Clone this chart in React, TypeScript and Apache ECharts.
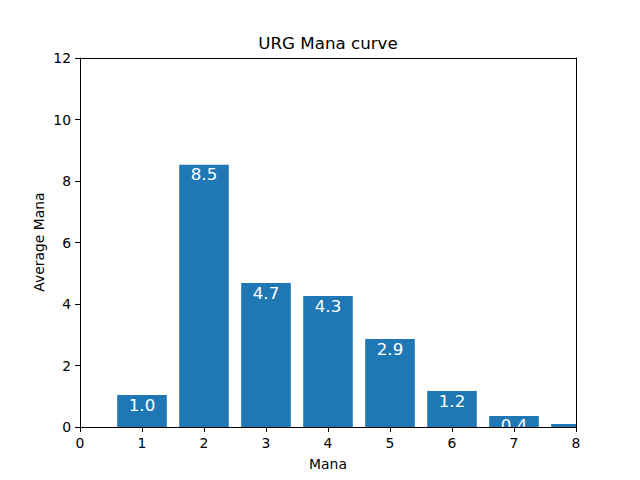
import React, { useEffect, useRef } from "react";
import * as echarts from "echarts";

const manaCosts = [1, 2, 3, 4, 5, 6, 7, 8];
const averageCounts = [1.04, 8.53, 4.68, 4.26, 2.86, 1.17, 0.36, 0.1];
const xTicks = [0, 1, 2, 3, 4, 5, 6, 7, 8];
const yTicks = [0, 2, 4, 6, 8, 10, 12];
const barRelWidth = 0.8;

const FONT = "DejaVu Sans";

export default function App() {
  const ref = useRef<HTMLDivElement>(null);
  useEffect(() => {
    if (!ref.current) return;
    const chart = echarts.init(ref.current, undefined, { renderer: "svg" });
    const axisCommon = {
      z: 5,
      axisLine: { show: true, onZero: false, lineStyle: { color: "#000", width: 1 } },
      axisTick: { show: true, inside: false, length: 5, lineStyle: { color: "#000" } },
      axisLabel: { color: "#000", fontSize: 13.9, fontFamily: FONT, margin: 9 },
      splitLine: { show: false },
    };
    chart.setOption({
      animation: false,
      backgroundColor: "#fff",
      grid: { left: 80, right: 64, top: 58, bottom: 53, containLabel: false },
      xAxis: [
        {
          ...axisCommon,
          type: "value",
          min: xTicks[0],
          max: xTicks[xTicks.length - 1],
          interval: 1,
          position: "bottom",
          name: "Mana",
          nameLocation: "middle",
          nameGap: 30,
          nameTextStyle: { color: "#000", fontSize: 13.9, fontFamily: FONT },
        },
        {
          type: "value",
          min: xTicks[0],
          max: xTicks[xTicks.length - 1],
          position: "top",
          z: 5,
          axisLine: { show: true, onZero: false, lineStyle: { color: "#000", width: 1 } },
          axisTick: { show: false },
          axisLabel: { show: false },
          splitLine: { show: false },
        },
      ],
      yAxis: [
        {
          ...axisCommon,
          type: "value",
          min: yTicks[0],
          max: yTicks[yTicks.length - 1],
          interval: 2,
          position: "left",
        },
        {
          type: "value",
          min: yTicks[0],
          max: yTicks[yTicks.length - 1],
          position: "right",
          z: 5,
          axisLine: { show: true, onZero: false, lineStyle: { color: "#000", width: 1 } },
          axisTick: { show: false },
          axisLabel: { show: false },
          splitLine: { show: false },
        },
      ],
      graphic: [
        {
          type: "text",
          x: 328,
          y: 43,
          style: {
            text: "URG Mana curve",
            fill: "#000",
            font: `16.7px "${FONT}"`,
            textAlign: "center",
            textVerticalAlign: "middle",
          },
        },
        {
          type: "text",
          x: 39,
          y: 242,
          rotation: Math.PI / 2,
          style: {
            text: "Average Mana",
            fill: "#000",
            font: `13.9px "${FONT}"`,
            textAlign: "center",
            textVerticalAlign: "middle",
          },
        },
      ],
      series: [
        {
          type: "custom",
          xAxisIndex: 0,
          yAxisIndex: 0,
          clip: true,
          data: manaCosts.map((m, i) => [m, averageCounts[i]]),
          encode: { x: 0, y: 1 },
          renderItem: (params: any, api: any) => {
            const x = api.value(0);
            const v = api.value(1);
            const tl = api.coord([x - barRelWidth / 2, v]);
            const br = api.coord([x + barRelWidth / 2, 0]);
            const cx = api.coord([x, v]);
            return {
              type: "group",
              children: [
                {
                  type: "rect",
                  shape: { x: tl[0], y: tl[1], width: br[0] - tl[0], height: br[1] - tl[1] },
                  style: { fill: "#1f77b4" },
                },
                {
                  type: "text",
                  x: cx[0],
                  y: cx[1] + 1,
                  style: {
                    text: Number(v).toFixed(1),
                    fill: "#fff",
                    font: `16.7px "${FONT}"`,
                    textAlign: "center",
                    textVerticalAlign: "top",
                  },
                },
              ],
            };
          },
        },
      ],
    });
    return () => chart.dispose();
  }, []);
  return (
    <div
      ref={ref}
      style={{ position: "fixed", left: 0, top: 0, width: 640, height: 480 }}
    />
  );
}
